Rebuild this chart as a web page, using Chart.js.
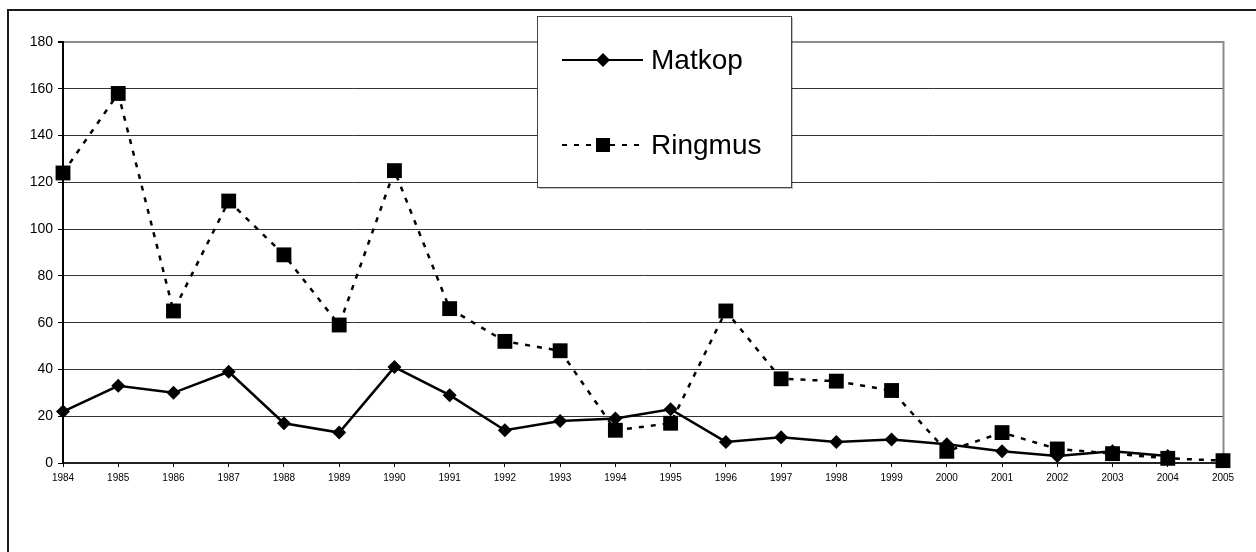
<!DOCTYPE html>
<html>
<head>
<meta charset="utf-8">
<script src="https://cdn.jsdelivr.net/npm/chart.js@4.4.1/dist/chart.umd.min.js"></script>
<style>
  html, body { margin: 0; padding: 0; background: #fff; overflow: hidden; }
  #wrap { position: relative; width: 1256px; height: 552px; }
  #frame { position: absolute; left: 7px; top: 9px; width: 1400px; height: 700px;
           border-left: 2px solid #1a1a1a; border-top: 2px solid #1a1a1a; }
  #myChart { position: absolute; left: 0; top: 0; }
</style>
</head>
<body>
<div id="wrap">
  <div id="frame"></div>
  <canvas id="myChart" width="1256" height="552"></canvas>
</div>
<script>
let years = ["1984","1985","1986","1987","1988","1989","1990","1991","1992","1993","1994",
             "1995","1996","1997","1998","1999","2000","2001","2002","2003","2004","2005"]
let matkop = [22, 33, 30, 39, 17, 13, 41, 29, 14, 18, 19, 23, 9, 11, 9, 10, 8, 5, 3, 5, 3, null]
let ringmus = [124, 158, 65, 112, 89, 59, 125, 66, 52, 48, 14, 17, 65, 36, 35, 31, 5, 13, 6, 4, 2, 1]
let yMin = 0
let yMax = 180
let yStep = 20

// boxed legend like the old spreadsheet one
let boxLegend = {
  id: "boxLegend",
  afterDraw(chart) {
    let c = chart.ctx
    let x0 = 537, y0 = 16, w = 254, h = 171
    c.save()
    c.fillStyle = "rgba(0,0,0,0.25)"
    c.fillRect(x0 + 2, y0 + 2, w, h)
    c.fillStyle = "#fff"
    c.fillRect(x0, y0, w, h)
    c.strokeStyle = "#444"
    c.lineWidth = 1
    c.strokeRect(x0 + 0.5, y0 + 0.5, w, h)

    let rows = [60, 145]
    chart.data.datasets.forEach((ds, i) => {
      let y = rows[i]
      c.strokeStyle = "#000"
      c.lineWidth = 2
      c.setLineDash(ds.borderDash || [])
      c.beginPath()
      c.moveTo(562, y)
      c.lineTo(643, y)
      c.stroke()
      c.setLineDash([])
      c.fillStyle = "#000"
      if (ds.pointStyle == "rect") {
        c.fillRect(596, y - 7, 14, 14)
      } else {
        c.beginPath()
        c.moveTo(603, y - 7)
        c.lineTo(610, y)
        c.lineTo(603, y + 7)
        c.lineTo(596, y)
        c.closePath()
        c.fill()
      }
      c.font = "28px 'Liberation Sans', Arial, sans-serif"
      c.textBaseline = "middle"
      c.textAlign = "left"
      c.fillText(ds.label, 651, y + 1)
    })
    c.restore()
  }
}

// grey right edge of the plot area
let plotEdge = {
  id: "plotEdge",
  beforeDatasetsDraw(chart) {
    let a = chart.chartArea
    let c = chart.ctx
    c.save()
    c.strokeStyle = "#8c8c8c"
    c.lineWidth = 2
    c.beginPath()
    c.moveTo(a.right + 0.5, a.top - 1)
    c.lineTo(a.right + 0.5, a.bottom)
    c.stroke()
    c.restore()
  }
}

let ctx = document.getElementById("myChart")
let myChart = new Chart(ctx, {
  type: "line",
  data: {
    labels: years,
    datasets: [{
      label: "Matkop",
      data: matkop,
      borderColor: "#000",
      backgroundColor: "#000",
      borderWidth: 2.5,
      pointStyle: "rectRot",
      pointRadius: 7,
      pointBackgroundColor: "#000",
      pointBorderColor: "#000",
      pointBorderWidth: 0,
      tension: 0,
      clip: false,
      order: 1
    }, {
      label: "Ringmus",
      data: ringmus,
      borderColor: "#000",
      backgroundColor: "#000",
      borderWidth: 2.5,
      borderDash: [5, 7],
      pointStyle: "rect",
      pointRadius: 10.5,
      pointBackgroundColor: "#000",
      pointBorderColor: "#000",
      pointBorderWidth: 0,
      tension: 0,
      clip: false,
      order: 0
    }]
  },
  options: {
    responsive: false,
    animation: false,
    devicePixelRatio: 1,
    layout: { padding: { left: 0, top: 42, right: 33, bottom: 0 } },
    plugins: {
      legend: { display: false },
      tooltip: { enabled: false }
    },
    scales: {
      x: {
        offset: false,
        afterFit: (s) => { s.height = 89 },
        grid: {
          drawOnChartArea: false,
          drawTicks: true,
          tickLength: 4,
          tickColor: "#000",
          offset: false
        },
        border: { display: true, color: "#222", width: 2 },
        ticks: {
          color: "#000",
          font: { family: "'Liberation Sans', Arial, sans-serif", size: 10 },
          padding: 5,
          maxRotation: 0,
          autoSkip: false
        }
      },
      y: {
        min: yMin,
        max: yMax,
        afterFit: (s) => { s.width = 63 },
        grid: {
          color: (g) => g.tick && g.tick.value == yMax ? "#8c8c8c" : "#333",
          lineWidth: (g) => g.tick && g.tick.value == yMax ? 2 : 1,
          tickLength: 5,
          tickColor: "#000"
        },
        border: { display: true, color: "#000", width: 2 },
        ticks: {
          stepSize: yStep,
          color: "#000",
          font: { family: "'Liberation Sans', Arial, sans-serif", size: 14 },
          padding: 5
        }
      }
    }
  },
  plugins: [plotEdge, boxLegend]
})
</script>
</body>
</html>
